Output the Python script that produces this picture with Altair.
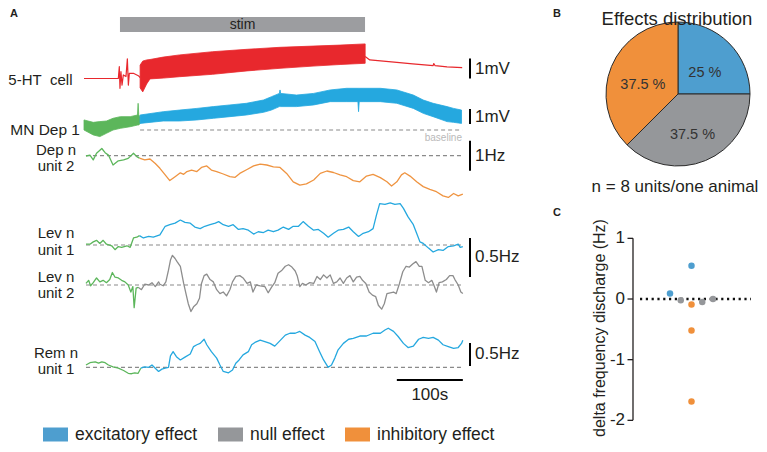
import altair as alt
import pandas as pd

FONT = "Liberation Sans"

# ---------------- Panel A data: time (s) and value re. baseline ----------------
STIM = [54.5, 425.8]

# 5-HT cell (mV)
HT_PRE_T = [0, 50, 52, 53.5, 54.5, 56, 57.6, 59.6, 63.6, 65.7, 67.2, 68.7, 74.8, 82.3, 85]
HT_PRE_V = [0.0, 0.0, 0.0, 0.59, -0.49, 0.34, -0.33, 0.18, 0.10, 0.98, -0.33, 0.26, 0.26, 0.14, 0.05]
HT_BAND_T = [85, 89, 95, 100, 120, 145, 195, 247, 297, 347, 388, 426]
HT_BAND_HI = [0.67, 0.87, 0.93, 0.95, 1.07, 1.18, 1.34, 1.46, 1.56, 1.62, 1.67, 1.73]
HT_BAND_LO = [-0.47, -0.67, -0.27, -0.02, 0.02, 0.09, 0.21, 0.38, 0.51, 0.62, 0.70, 0.76]
HT_POST_T = [426, 426.5, 433, 474, 498, 529, 530, 532, 550, 573]
HT_POST_V = [1.09, 1.09, 0.93, 0.81, 0.73, 0.64, 0.75, 0.64, 0.58, 0.54]

# MN Dep 1 (mV) envelopes
MN_PRE_T = [0, 14, 24, 34, 44, 55, 70, 81, 82, 83, 85]
MN_PRE_HI = [0.67, 0.51, 0.56, 0.60, 0.78, 0.89, 0.89, 1.00, 1.78, 1.00, 0.89]
MN_PRE_LO = [0.0, -0.33, -0.44, -0.22, 0.0, 0.11, 0.22, 0.33, 0.33, 0.33, 0.44]
MN_T = [85, 120, 145, 171, 196, 221, 246, 272, 284, 296, 297, 298, 322, 348, 373, 398, 415, 416, 417, 423,
        449, 474, 499, 514, 529, 550, 560, 572]
MN_HI = [1.00, 1.22, 1.33, 1.44, 1.56, 1.67, 1.78, 2.00, 2.22, 2.44, 2.67, 2.44, 2.33, 2.44, 2.67, 2.78, 2.78, 2.78, 2.78, 2.78,
         2.78, 2.67, 2.33, 2.00, 1.78, 1.56, 1.44, 1.33]
MN_LO = [0.44, 0.60, 0.60, 0.67, 0.78, 0.89, 1.00, 1.18, 1.33, 1.56, 1.56, 1.56, 1.56, 1.67, 1.89, 1.89, 1.89, 1.22, 1.89, 1.89,
         1.89, 1.78, 1.44, 1.11, 0.89, 0.56, 0.51, 0.44]

# Dep n unit 2 (Hz)
DEP_PRE_T = [3, 9, 14, 19, 27, 32, 37, 44, 52, 60, 67, 75, 80, 84]
DEP_PRE_V = [-0.01, 0.02, -0.14, 0.08, 0.24, 0.10, 0.02, -0.31, -0.17, -0.14, -0.09, 0.08, -0.03, -0.08]
DEP_T = [84, 92, 100, 108, 115, 123, 130, 138, 146, 151, 156, 163, 171, 178, 186, 193, 201, 211, 221, 229,
         236, 247, 257, 267, 277, 287, 297, 307, 317, 327, 337, 348, 358, 368, 378, 388, 398, 408, 418, 428,
         438, 449, 459, 466, 474, 481, 486, 494, 504, 514, 524, 534, 544, 552, 560, 567, 574]
DEP_V = [-0.08, -0.14, -0.11, -0.26, -0.42, -0.64, -0.83, -0.70, -0.57, -0.62, -0.53, -0.48, -0.53, -0.39, -0.34, -0.48, -0.53, -0.61, -0.70, -0.72,
         -0.59, -0.46, -0.34, -0.28, -0.31, -0.37, -0.39, -0.59, -0.87, -0.98, -0.94, -0.81, -0.59, -0.51, -0.56, -0.64, -0.70, -0.83, -0.87, -0.68,
         -0.62, -0.73, -0.87, -1.01, -0.87, -0.64, -0.57, -0.68, -0.87, -1.03, -1.12, -1.20, -1.34, -1.39, -1.26, -1.34, -1.28]

# Lev n unit 1 (Hz)
LEV1_PRE_T = [3, 9, 14, 19, 24, 29, 34, 42, 47, 52, 57, 65, 70, 75, 80, 84]
LEV1_PRE_V = [0.01, 0.01, 0.04, 0.06, 0.02, 0.06, 0.01, -0.01, -0.06, -0.02, -0.03, -0.01, -0.03, 0.09, 0.10, 0.12]
LEV1_T = [84, 90, 98, 105, 115, 123, 130, 138, 146, 153, 161, 168, 176, 183, 191, 199, 204, 211, 219, 226,
          234, 241, 249, 257, 264, 272, 279, 287, 294, 302, 310, 317, 325, 332, 340, 348, 355, 363, 370, 378,
          385, 393, 401, 408, 416, 423, 431, 438, 443, 448, 456, 464, 471, 479, 484, 491, 499, 504, 509, 514,
          522, 529, 537, 544, 552, 560, 567, 570, 574]
LEV1_V = [0.12, 0.09, 0.11, 0.10, 0.13, 0.24, 0.26, 0.28, 0.32, 0.29, 0.28, 0.23, 0.21, 0.24, 0.26, 0.28, 0.30, 0.26, 0.24, 0.26,
          0.20, 0.21, 0.19, 0.14, 0.17, 0.16, 0.19, 0.17, 0.19, 0.23, 0.20, 0.24, 0.24, 0.30, 0.24, 0.19, 0.20, 0.15, 0.10, 0.15,
          0.19, 0.20, 0.23, 0.17, 0.11, 0.15, 0.17, 0.21, 0.38, 0.53, 0.52, 0.54, 0.52, 0.53, 0.47, 0.36, 0.26, 0.15, 0.04, 0.02,
          -0.04, -0.09, -0.06, -0.07, -0.02, -0.01, 0.01, -0.03, -0.02]

# Lev n unit 2 (Hz)
LEV2_PRE_T = [3, 7, 10, 14, 19, 24, 29, 34, 39, 43, 47, 52, 57, 62, 67, 71, 74, 76, 79, 82]
LEV2_PRE_V = [0.02, 0.06, -0.01, 0.03, 0.09, 0.04, 0.06, 0.03, 0.07, 0.16, 0.10, 0.09, 0.06, 0.04, 0.00, -0.09, -0.02, -0.29, -0.04, -0.03]
LEV2_T = [82, 87, 92, 98, 103, 108, 113, 115, 120, 124, 128, 131, 134, 138, 141, 146, 151, 155, 158, 162,
          166, 171, 175, 178, 182, 186, 191, 196, 201, 206, 211, 216, 221, 225, 230, 236, 241, 247, 252, 256,
          261, 267, 274, 279, 284, 289, 294, 300, 305, 310, 315, 320, 323, 327, 331, 336, 342, 348, 353, 358,
          363, 368, 373, 378, 383, 388, 393, 398, 403, 408, 413, 418, 422, 427, 432, 437, 442, 446, 451, 455,
          459, 464, 469, 473, 478, 483, 488, 493, 498, 503, 508, 512, 517, 522, 527, 530, 534, 538, 543, 549,
          554, 559, 562, 567, 571, 574]
LEV2_V = [-0.03, -0.06, 0.01, 0.00, 0.03, -0.02, 0.04, 0.01, -0.01, 0.04, 0.19, 0.32, 0.38, 0.34, 0.30, 0.24, 0.02, -0.13, -0.24, -0.34,
          -0.28, -0.24, -0.17, 0.02, 0.12, 0.14, 0.07, 0.04, -0.06, -0.11, -0.09, -0.14, -0.06, 0.04, 0.11, 0.12, 0.09, 0.02, 0.04, -0.09,
          0.00, -0.01, -0.02, -0.10, -0.03, 0.03, 0.15, 0.19, 0.24, 0.26, 0.23, 0.18, 0.12, -0.02, 0.02, 0.00, 0.03, 0.02, 0.11, 0.07,
          0.13, 0.09, 0.13, 0.02, 0.04, 0.09, 0.02, 0.09, 0.12, 0.04, 0.10, 0.11, 0.06, 0.02, -0.09, -0.13, -0.15, -0.26, -0.31, -0.24,
          -0.11, -0.10, -0.09, -0.11, 0.02, 0.17, 0.24, 0.23, 0.27, 0.30, 0.24, 0.24, 0.06, 0.03, 0.06, 0.00, -0.09, 0.03, 0.04, 0.07,
          0.12, 0.12, 0.07, 0.00, -0.09, -0.11]

# Rem n unit 1 (Hz)
REM_PRE_T = [3, 9, 17, 22, 27, 32, 37, 44, 52, 60, 67, 72, 77, 82, 86]
REM_PRE_V = [0.05, 0.10, 0.12, 0.09, 0.12, 0.10, 0.05, 0.01, -0.02, -0.07, -0.13, -0.14, -0.12, -0.13, -0.02]
REM_T = [86, 92, 98, 103, 108, 113, 118, 123, 128, 131, 135, 140, 146, 153, 161, 166, 171, 176, 182, 186,
         193, 201, 206, 211, 219, 225, 230, 235, 241, 249, 254, 259, 267, 274, 282, 289, 297, 305, 312, 320,
         327, 335, 342, 350, 357, 363, 370, 375, 380, 385, 393, 401, 408, 418, 428, 438, 449, 456, 461, 469,
         476, 484, 491, 499, 507, 514, 522, 529, 537, 544, 552, 560, 567, 572, 574]
REM_V = [-0.02, 0.01, 0.00, 0.05, -0.02, -0.09, -0.04, -0.02, 0.00, 0.25, 0.34, 0.23, 0.16, 0.22, 0.29, 0.45, 0.49, 0.52, 0.61, 0.49,
         0.34, 0.20, 0.05, -0.09, -0.12, -0.06, 0.09, 0.16, 0.27, 0.34, 0.49, 0.54, 0.59, 0.56, 0.52, 0.46, 0.58, 0.70, 0.74, 0.74,
         0.78, 0.70, 0.65, 0.56, 0.34, 0.16, 0.00, 0.05, 0.20, 0.38, 0.52, 0.61, 0.63, 0.68, 0.68, 0.74, 0.74, 0.81, 0.85, 0.78,
         0.67, 0.52, 0.43, 0.46, 0.61, 0.65, 0.63, 0.65, 0.59, 0.49, 0.45, 0.41, 0.43, 0.52, 0.59]

TRACE_LABELS = [["5-HT\u00a0 cell"], ["MN Dep 1"], ["Dep n", "unit 2"], ["Lev n", "unit 1"], ["Lev n", "unit 2"], ["Rem n", "unit 1"]]
SCALE_BARS = [("ht", 0.0, 1.0, "1mV"), ("mn", 0.4, 1.0, "1mV"), ("dep", -0.5, 1.0, "1Hz"),
              ("lev1", -0.41, 0.5, "0.5Hz"), ("rem", 0.03, 0.5, "0.5Hz")]
TIME_BAR = [474, 574]

# ---------------- Panel B / C data ----------------
EFFECTS = ["excitatory effect", "null effect", "inhibitory effect"]
PIE_PCT = [25.0, 37.5, 37.5]
PIE_LABELS = ["25 %", "37.5 %", "37.5 %"]

C_X = [1, 2, 3, 3, 3, 3, 4, 5]
C_Y = [0.09, -0.02, 0.55, -0.09, -0.52, -1.69, -0.05, 0.0]
C_EFF = ["excitatory effect", "null effect", "excitatory effect", "inhibitory effect",
         "inhibitory effect", "inhibitory effect", "null effect", "null effect"]
C_TICKS = [1, 0, -1, -2]
C_TICK_LABELS = ["1", "0", "-1", "-2"]

# ---------------- styling / layout ----------------
RED = "#e8282d"
BLUE_TR = "#25a8df"
GREEN = "#5cb65b"
ORANGE_TR = "#ef9441"
GRAY_TR = "#8d8d8d"
EFF_COLORS = ["#4e9ecf", "#95979a", "#f0903b"]
TXT = "#231f20"

A_W, A_H = 520, 436
B_W, B_H = 231, 192
C_W, C_H = 231, 244
PX_PER_S, X0 = 0.66, 84          # page x of t = 0
T_DOM = [(8 - X0) / PX_PER_S, (8 + A_W - X0) / PX_PER_S]
# trace placement: (page y of baseline, pixels per unit)
PLACE = {"ht": (78.5, 20), "mn": (130, 15), "dep": (155.7, 30),
         "lev1": (245, 78), "lev2": (285, 78), "rem": (367.3, 46)}

xs = alt.Scale(domain=T_DOM, nice=False, zero=False)
ys = alt.Scale(domain=[8, 8 + A_H], reverse=True, nice=False, zero=False)


def X(f="t"):
    return alt.X(f, type="quantitative", scale=xs, axis=None)


def Y(f="py"):
    return alt.Y(f, type="quantitative", scale=ys, axis=None)


def pos(trace, v):
    base, gain = PLACE[trace]
    return base - v * gain


def line_df(trace, ts, vs):
    return pd.DataFrame({"t": ts, "py": [pos(trace, v) for v in vs], "trace": trace})


def band_df(trace, ts, hi, lo):
    return pd.DataFrame({"t": ts, "hi": [pos(trace, v) for v in hi],
                         "lo": [pos(trace, v) for v in lo], "trace": trace})


def lines(df, color, width=1.3):
    return alt.Chart(df).mark_line(color=color, strokeWidth=width, strokeJoin="round").encode(
        x=X(), y=Y(), detail="trace:N")


def band(df, color):
    return alt.Chart(df).mark_area(color=color, opacity=1, stroke=color, strokeWidth=0.8).encode(
        x=X(), y=Y("hi"), y2=alt.Y2("lo"), detail="trace:N")


def txt(s, x, y, size=15, align="left", baseline="middle", color=TXT, weight="normal", angle=0):
    return alt.Chart(pd.DataFrame({"s": [s]})).mark_text(
        align=align, baseline=baseline, fontSize=size, color=color, fontWeight=weight,
        angle=angle, font=FONT).encode(x=alt.value(x), y=alt.value(y), text="s:N")


green_df = pd.concat([line_df("dep", DEP_PRE_T, DEP_PRE_V), line_df("lev1", LEV1_PRE_T, LEV1_PRE_V),
                      line_df("lev2", LEV2_PRE_T, LEV2_PRE_V), line_df("rem", REM_PRE_T, REM_PRE_V)])
blue_df = pd.concat([line_df("lev1", LEV1_T, LEV1_V), line_df("rem", REM_T, REM_V)])
red_df = pd.concat([line_df("ht", HT_PRE_T, HT_PRE_V).assign(trace="pre"),
                    line_df("ht", HT_POST_T, HT_POST_V).assign(trace="post")])

base_rows = []
for tr, t1 in [("mn", 85), ("dep", 3), ("lev1", 3), ("lev2", 3), ("rem", 3)]:
    base_rows.append({"t1": t1, "t2": 573, "py": pos(tr, 0)})
baselines = alt.Chart(pd.DataFrame(base_rows)).mark_rule(
    color="#8a8a8a", strokeDash=[4, 3], strokeWidth=1.2).encode(x=X("t1"), x2=alt.X2("t2"), y=Y())

sb_rows = []
for tr, lo, ln, lab in SCALE_BARS:
    sb_rows.append({"y1": pos(tr, lo), "y2": pos(tr, lo + ln), "ym": pos(tr, lo + ln / 2), "lab": lab})
sb_df = pd.DataFrame(sb_rows)
sbars = alt.Chart(sb_df).mark_rule(color="black", strokeWidth=2).encode(
    x=alt.value(462), y=Y("y1"), y2=alt.Y2("y2"))
sbtext = alt.Chart(sb_df).mark_text(align="left", baseline="middle", fontSize=17, font=FONT, color=TXT).encode(
    x=alt.value(467), y=Y("ym"), text="lab:N")

tb_df = pd.DataFrame({"t1": [TIME_BAR[0]], "t2": [TIME_BAR[1]], "lab": ["100s"]})
tbar = alt.Chart(tb_df).mark_rule(color="black", strokeWidth=2).encode(
    x=X("t1"), x2=alt.X2("t2"), y=alt.value(372))
tbtext = alt.Chart(tb_df).transform_calculate(tm="(datum.t1 + datum.t2) / 2").mark_text(
    align="center", baseline="middle", fontSize=17, font=FONT, color=TXT).encode(
    x=X("tm"), y=alt.value(387), text="lab:N")

stim_df = pd.DataFrame({"t1": [STIM[0]], "t2": [STIM[1]], "lab": ["stim"]})
stim = alt.Chart(stim_df).mark_rect(color="#9c9da0").encode(
    x=X("t1"), x2=alt.X2("t2"), y=alt.value(9), y2=alt.value(24))
stimtext = alt.Chart(stim_df).transform_calculate(tm="(datum.t1 + datum.t2) / 2").mark_text(
    align="center", baseline="middle", fontSize=14, font=FONT, color=TXT).encode(
    x=X("tm"), y=alt.value(16.5), text="lab:N")

labels = [
    txt(TRACE_LABELS[0][0], 64.5, 72, align="right"),
    txt(TRACE_LABELS[1][0], 72, 121.5, align="right", size=15.5),
    txt(TRACE_LABELS[2][0], 48, 141.5, align="center"), txt(TRACE_LABELS[2][1], 48, 157.5, align="center"),
    txt(TRACE_LABELS[3][0], 48, 225, align="center"), txt(TRACE_LABELS[3][1], 48, 242, align="center"),
    txt(TRACE_LABELS[4][0], 48, 269, align="center"), txt(TRACE_LABELS[4][1], 48, 285, align="center"),
    txt(TRACE_LABELS[5][0], 48, 345, align="center"), txt(TRACE_LABELS[5][1], 48, 361, align="center"),
    txt("baseline", 454, 130, size=10, align="right", color="#b9b9b9"),
    txt("A", 2, 6, size=11, weight="bold"),
]

panel_a = alt.layer(
    stim, stimtext, baselines,
    band(band_df("mn", MN_PRE_T, MN_PRE_HI, MN_PRE_LO), GREEN),
    band(band_df("mn", MN_T, MN_HI, MN_LO), BLUE_TR),
    band(band_df("ht", HT_BAND_T, HT_BAND_HI, HT_BAND_LO), RED),
    lines(red_df, RED, 1.2),
    lines(line_df("dep", DEP_T, DEP_V), ORANGE_TR),
    lines(line_df("lev2", LEV2_T, LEV2_V), GRAY_TR),
    lines(blue_df, BLUE_TR),
    lines(green_df, GREEN),
    sbars, sbtext, tbar, tbtext, *labels,
).properties(width=A_W, height=A_H)

# ---------------- Panel B ----------------
color_scale = alt.Scale(domain=EFFECTS, range=EFF_COLORS)
legend = alt.Legend(orient="none", legendX=35, legendY=414, direction="horizontal", title=None,
                    symbolType="M-1,-0.56H1V0.56H-1Z", symbolSize=625, symbolStrokeWidth=0,
                    symbolOpacity=1, labelFontSize=17.5, labelFont=FONT, labelColor=TXT,
                    columnPadding=20, labelOffset=7, labelLimit=300)

pie_df = pd.DataFrame({"effect": EFFECTS, "pct": PIE_PCT, "k": [0, 1, 2], "label": PIE_LABELS})
pie_base = alt.Chart(pie_df).encode(theta=alt.Theta("pct:Q", stack=True), order=alt.Order("k:Q"))
arc = pie_base.mark_arc(outerRadius=72, stroke="#2a2a2a", strokeWidth=1).encode(
    color=alt.Color("effect:N", scale=color_scale, legend=legend), x=alt.value(150), y=alt.value(86))
arc_txt = pie_base.mark_text(radius=38, dy=6, fontSize=14.5, font=FONT, color="#333333").encode(
    text="label:N", x=alt.value(150), y=alt.value(86))

panel_b = alt.layer(
    arc, arc_txt,
    txt("Effects distribution", 149, 2, size=18.5, align="center", baseline="top"),
    txt("n = 8 units/one animal", 147, 179, size=17, align="center"),
    txt("B", 25, 6, size=11, weight="bold"),
).properties(width=B_W, height=B_H)

# ---------------- Panel C ----------------
cxs = alt.Scale(domain=[-12.21, 9.28], nice=False, zero=False)
cys = alt.Scale(domain=[-2.390, 1.632], nice=False, zero=False)
c_df = pd.DataFrame({"x": C_X, "y": C_Y, "effect": C_EFF})
tick_df = pd.DataFrame({"v": C_TICKS, "lab": C_TICK_LABELS})

c_axis = alt.Chart(pd.DataFrame({"a": [max(C_TICKS)], "b": [min(C_TICKS)]})).mark_rule(
    color="#231f20", strokeWidth=1.3).encode(x=alt.value(105), y=alt.Y("a:Q", scale=cys, axis=None), y2="b:Q")
c_ticks = alt.Chart(tick_df).mark_rule(color="#231f20", strokeWidth=1.3).encode(
    x=alt.value(99.5), x2=alt.value(105), y=alt.Y("v:Q", scale=cys, axis=None))
c_labels = alt.Chart(tick_df).mark_text(align="right", baseline="middle", fontSize=17, font=FONT, color=TXT).encode(
    x=alt.value(97), y=alt.Y("v:Q", scale=cys, axis=None), text="lab:N")
c_zero = alt.Chart(pd.DataFrame({"z": [0]})).mark_rule(
    color="#111111", strokeWidth=2.3, strokeDash=[2.2, 3.6]).encode(
    x=alt.value(112), x2=alt.value(223), y=alt.Y("z:Q", scale=cys, axis=None))
c_pts = alt.Chart(c_df).mark_circle(size=42, opacity=1).encode(
    x=alt.X("x:Q", scale=cxs, axis=None), y=alt.Y("y:Q", scale=cys, axis=None),
    color=alt.Color("effect:N", scale=color_scale, legend=legend))

panel_c = alt.layer(
    c_zero, c_axis, c_ticks, c_labels, c_pts,
    txt("delta frequency discharge (Hz)", 72, 128, size=16, align="center", angle=270),
    txt("C", 25, 13, size=11, weight="bold"),
).properties(width=C_W, height=C_H)

chart = alt.hconcat(
    panel_a, alt.vconcat(panel_b, panel_c, spacing=0), spacing=0
).properties(padding=0).configure(font=FONT).configure_view(stroke=None)

chart.save("out.html", embed_options={"renderer": "svg", "actions": False})
